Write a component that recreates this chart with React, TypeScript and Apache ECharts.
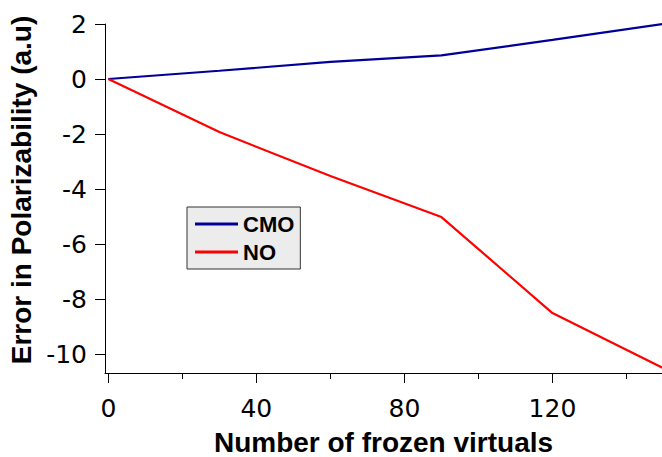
import React, { useEffect, useRef } from "react";
import * as echarts from "echarts";

const frozenVirtuals = [0, 30, 60, 90, 120, 150];
const cmoError = [0, 0.3, 0.62, 0.86, 1.42, 2.0];
const noError = [0, -1.93, -3.53, -5.02, -8.51, -10.52];
const xMajorTicks = [0, 40, 80, 120];
const xMinorTicks = [20, 60, 100, 140];
const yTicks = [-10, -8, -6, -4, -2, 0, 2];

export default function App() {
  const ref = useRef<HTMLDivElement>(null);
  useEffect(() => {
    if (!ref.current) return;
    const chart = echarts.init(ref.current, null, { renderer: "svg" });
    const tickFont = { fontFamily: "DejaVu Sans", fontSize: 25, color: "#000" };
    chart.setOption({
      animation: false,
      backgroundColor: "#fff",
      grid: { left: 105, right: 0, top: 24, bottom: 84, containLabel: false, outerBoundsMode: "none" },
      legend: {
        left: 187,
        top: 207,
        orient: "vertical",
        backgroundColor: "#ececec",
        borderColor: "#333",
        borderWidth: 1,
        borderRadius: 0,
        padding: [6, 6, 6, 8],
        itemWidth: 43,
        itemHeight: 16,
        itemGap: 6,
        textStyle: { fontFamily: "Liberation Sans", fontWeight: "bold", fontSize: 22, color: "#000", padding: [0, 0, 0, 0] },
        data: [
          { name: "CMO", icon: "path://M0,7 L43,7 L43,10 L0,10 Z" },
          { name: "NO", icon: "path://M0,7 L43,7 L43,10 L0,10 Z" },
        ],
      },
      xAxis: [
        {
          type: "value",
          min: -0.9,
          max: 149.6,
          name: "Number of frozen virtuals",
          nameLocation: "middle",
          nameGap: 55,
          nameTextStyle: { fontFamily: "Liberation Sans", fontWeight: "bold", fontSize: 28, color: "#000" },
          axisLine: { show: true, onZero: false, lineStyle: { color: "#000", width: 1 } },
          axisTick: { show: true, length: 10, customValues: xMajorTicks, lineStyle: { color: "#000" } },
          axisLabel: { ...tickFont, margin: 23, customValues: xMajorTicks },
          splitLine: { show: false },
        },
        {
          type: "value",
          min: -0.9,
          max: 149.6,
          position: "bottom",
          axisLine: { show: false, onZero: false },
          axisTick: { show: true, length: 6, customValues: xMinorTicks, lineStyle: { color: "#000" } },
          axisLabel: { show: false },
          splitLine: { show: false },
        },
      ],
      yAxis: {
        type: "value",
        min: -10.69,
        max: 2,
        name: "Error in Polarizability (a.u)",
        nameLocation: "middle",
        nameGap: 61,
        nameTextStyle: { fontFamily: "Liberation Sans", fontWeight: "bold", fontSize: 28, color: "#000", padding: [0, 0, 0, 17] },
        axisLine: { show: true, onZero: false, lineStyle: { color: "#000", width: 1 } },
        axisTick: { show: true, length: 10, customValues: yTicks, lineStyle: { color: "#000" } },
        axisLabel: { ...tickFont, margin: 18, customValues: yTicks, formatter: (v: number) => String(v) },
        splitLine: { show: false },
      },
      series: [
        {
          name: "CMO",
          type: "line",
          data: frozenVirtuals.map((x, i) => [x, cmoError[i]]),
          symbol: "none",
          color: "#000099",
          lineStyle: { color: "#000099", width: 2.2 },
          itemStyle: { color: "#000099" },
        },
        {
          name: "NO",
          type: "line",
          data: frozenVirtuals.map((x, i) => [x, noError[i]]),
          symbol: "none",
          color: "#ff0000",
          lineStyle: { color: "#ff0000", width: 2.2 },
          itemStyle: { color: "#ff0000" },
        },
      ],
    });
    return () => chart.dispose();
  }, []);
  return <div ref={ref} style={{ width: 662, height: 457, position: "fixed", left: 0, top: 0 }} />;
}
